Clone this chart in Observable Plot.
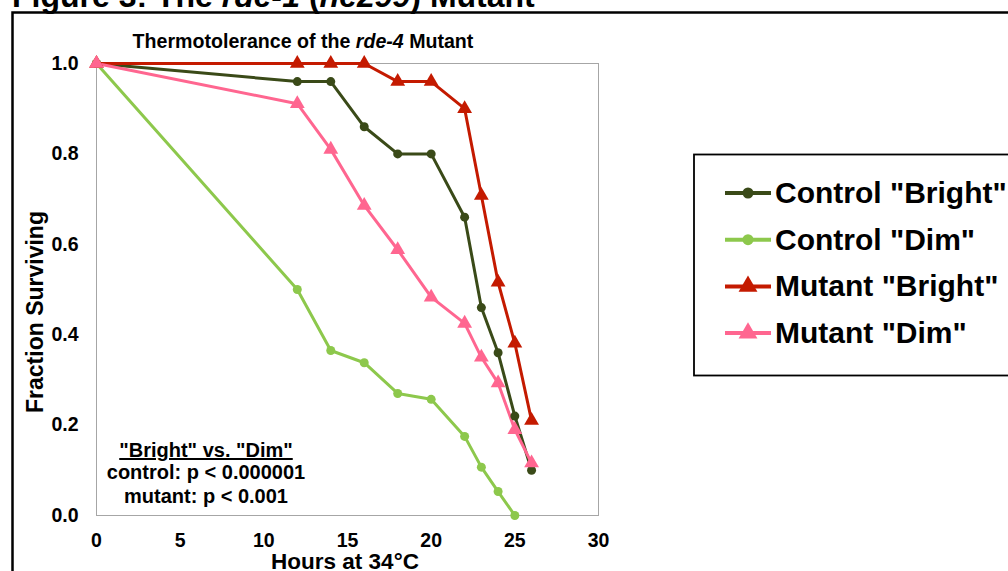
<!DOCTYPE html>
<html>
<head>
<meta charset="utf-8">
<script src="https://cdn.jsdelivr.net/npm/d3@7"></script>
<script src="https://cdn.jsdelivr.net/npm/@observablehq/plot@0.6"></script>
<style>
  html, body { margin: 0; padding: 0; background: #fff; }
  body { font-family: "Liberation Sans", Arial, sans-serif; }
  #wrap { position: relative; width: 1008px; height: 571px; overflow: hidden; }
  #overlay { position: absolute; left: 0; top: 0; pointer-events: none; }
  #chart { position: absolute; left: 0; top: 0; }
</style>
</head>
<body>
<div id="wrap">
  <div id="chart"></div>
  <svg id="overlay" width="1008" height="571"></svg>
</div>
<script>
// ---- data ----
const seriesNames = ['Control "Bright"', 'Control "Dim"', 'Mutant "Bright"', 'Mutant "Dim"'];
const seriesColors = ["#3a4a18", "#8dc84c", "#c41a00", "#ff6690"];
const seriesSymbols = ["circle", "circle", "triangle", "triangle"];

const hours = [0, 12, 14, 16, 18, 20, 22, 23, 24, 25, 26];
const controlBright = [1.0, 0.96, 0.96, 0.86, 0.80, 0.80, 0.66, 0.46, 0.36, 0.22, 0.10];
const controlDim    = [1.0, 0.50, 0.365, 0.338, 0.27, 0.257, 0.175, 0.107, 0.053, 0.0];
const mutantBright  = [1.0, 1.0, 1.0, 1.0, 0.96, 0.96, 0.90, 0.708, 0.516, 0.381, 0.21];
const mutantDim     = [1.0, 0.911, 0.81, 0.686, 0.588, 0.483, 0.425, 0.35, 0.293, 0.19, 0.116];

const xTicks = [0, 5, 10, 15, 20, 25, 30];
const yTicks = [0, 0.2, 0.4, 0.6, 0.8, 1.0];

const chartTitle = "Thermotolerance of the ";
const chartTitleItalic = "rde-4";
const chartTitleEnd = " Mutant";
const xLabel = "Hours at 34°C";
const yLabel = "Fraction Surviving";
const statsHeader = '"Bright" vs. "Dim"';
const statsLines = ["control: p < 0.000001", "mutant: p < 0.001"];

// ---- build rows ----
const allValues = [controlBright, controlDim, mutantBright, mutantDim];
const rows = [];
allValues.forEach((vals, i) => {
  vals.forEach((v, j) => rows.push({ s: seriesNames[i], h: hours[j], v }));
});

const FONT = '"Liberation Sans", Arial, sans-serif';

const chart = Plot.plot({
  width: 1008,
  height: 571,
  marginLeft: 96,
  marginRight: 410,
  marginTop: 63,
  marginBottom: 56,
  style: { fontFamily: FONT, color: "#000", background: "transparent", overflow: "visible" },
  x: { domain: [0, 30] },
  y: { domain: [0, 1] },
  color: { domain: seriesNames, range: seriesColors },
  symbol: { domain: seriesNames, range: seriesSymbols },
  marks: [
    Plot.frame({ stroke: "#a6a6a6", strokeWidth: 1 }),
    Plot.axisX({ ticks: xTicks, tickSize: 0, tickPadding: 18, fontSize: 19.5, fontWeight: "bold", label: null, tickFormat: d => String(d) }),
    Plot.axisY({ ticks: yTicks, tickSize: 0, tickPadding: 18, fontSize: 19.5, fontWeight: "bold", label: null, tickFormat: d3.format(".1f") }),
    Plot.line(rows, { x: "h", y: "v", z: "s", stroke: "s", strokeWidth: 3 }),
    Plot.dot(rows.filter(d => d.s.startsWith("Control")), { x: "h", y: "v", fill: "s", symbol: "s", r: 4.5, stroke: null }),
    Plot.dot(rows.filter(d => d.s.startsWith("Mutant")), { x: "h", y: "v", fill: "s", symbol: "s", r: 5.5, stroke: null })
  ]
});
document.getElementById("chart").appendChild(chart);

// ---- overlay: frame box, titles, annotation, legend ----
const svg = d3.select("#overlay").style("font-family", FONT);

// figure title (cut off at top in the reference)
const ft = svg.append("text").attr("x", 12).attr("y", 7).attr("font-size", 32).attr("font-weight", "bold");
ft.append("tspan").text("Figure 3: The ");
ft.append("tspan").attr("font-style", "italic").text("rde-1");
ft.append("tspan").text(" (");
ft.append("tspan").attr("font-style", "italic").text("ne299");
ft.append("tspan").text(") Mutant");

// outer black box
svg.append("rect").attr("x", 12.5).attr("y", 12.5).attr("width", 1100).attr("height", 700)
  .attr("fill", "none").attr("stroke", "#000").attr("stroke-width", 2.5);

// chart title
const t = svg.append("text").attr("x", 303).attr("y", 48).attr("text-anchor", "middle")
  .attr("font-size", 19.6).attr("font-weight", "bold");
t.append("tspan").text(chartTitle);
t.append("tspan").attr("font-style", "italic").text(chartTitleItalic);
t.append("tspan").text(chartTitleEnd);

// axis titles
svg.append("text").attr("x", 345).attr("y", 569).attr("text-anchor", "middle")
  .attr("font-size", 22.5).attr("font-weight", "bold").text(xLabel);
svg.append("text").attr("transform", "translate(43,312) rotate(-90)").attr("text-anchor", "middle")
  .attr("font-size", 23).attr("font-weight", "bold").text(yLabel);

// stats annotation
svg.append("text").attr("x", 206).attr("y", 457).attr("text-anchor", "middle")
  .attr("font-size", 20).attr("font-weight", "bold").attr("text-decoration", "underline").text(statsHeader);
statsLines.forEach((s, i) => {
  svg.append("text").attr("x", 206).attr("y", 479 + i * 24).attr("text-anchor", "middle")
    .attr("font-size", 20).attr("font-weight", "bold").text(s);
});

// legend
svg.append("rect").attr("x", 694).attr("y", 154.5).attr("width", 400).attr("height", 221)
  .attr("fill", "#fff").attr("stroke", "#000").attr("stroke-width", 1.8);
const sym = { circle: d3.symbolCircle, triangle: d3.symbolTriangle };
seriesNames.forEach((name, i) => {
  const base = 203 + i * 46.7;
  const cy = base - 10;
  const g = svg.append("g");
  g.append("line").attr("x1", 725).attr("x2", 771).attr("y1", cy).attr("y2", cy)
    .attr("stroke", seriesColors[i]).attr("stroke-width", 4);
  const area = seriesSymbols[i] === "circle" ? Math.PI * 5.5 * 5.5 : Math.PI * 7 * 7;
  g.append("path").attr("d", d3.symbol(sym[seriesSymbols[i]], area)())
    .attr("transform", `translate(748,${cy})`).attr("fill", seriesColors[i]);
  g.append("text").attr("x", 775).attr("y", base).attr("font-size", 30).attr("font-weight", "bold").text(name);
});
</script>
</body>
</html>
